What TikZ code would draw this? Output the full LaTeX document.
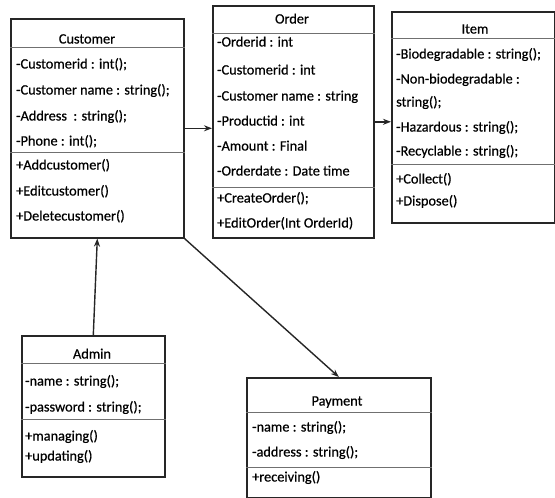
\documentclass[tikz,border=0pt]{standalone}
\usepackage{fontspec}
\setmainfont{Carlito}
\newfontfamily\umlfont{Carlito}[FakeBold=0.6]
\usepackage{xcolor}
\usepackage{tikz}
\usetikzlibrary{arrows.meta,positioning,calc}
\definecolor{bk90}{HTML}{262626}
\definecolor{bk60}{HTML}{707070}
\tikzset{
  classbox/.style={
    rectangle, draw=bk90, line width=1.6pt, anchor=north west,
    inner sep=0pt
  },
  classname/.style={
    font=\umlfont\fontsize{14.3}{17}\selectfont, inner sep=0pt,
    text height=10.5pt, text depth=3.5pt
  },
  member/.style={
    anchor=west, font=\umlfont\fontsize{14.3}{17}\selectfont, inner sep=0pt,
    text height=10.5pt, text depth=3.5pt
  },
  divider/.style={draw=bk60, line width=0.9pt},
  assoc/.style={
    -{Stealth[length=8pt,width=6pt]}, line width=1.4pt, color=bk90
  },
}
\begin{document}
\begin{tikzpicture}[x=1pt, y=-1pt]
\useasboundingbox (0,0) rectangle (555,498);
% class boxes
\node[classbox, minimum width=173pt, minimum height=219pt] (customer) at (10,18) {};
\node[classbox, minimum width=161pt, minimum height=232pt] (order) at (212,5) {};
\node[classbox, minimum width=163pt, minimum height=211pt] (item) at (391,11) {};
\node[classbox, minimum width=143pt, minimum height=141pt] (admin) at (21,335) {};
\node[classbox, minimum width=184pt, minimum height=120pt] (payment) at (246,377) {};
% compartments
\draw[divider] (customer.west |- 0,47) -- (customer.east |- 0,47);
\draw[divider] (customer.west |- 0,152) -- (customer.east |- 0,152);
\draw[divider] (order.west |- 0,33) -- (order.east |- 0,33);
\draw[divider] (order.west |- 0,187) -- (order.east |- 0,187);
\draw[divider] (item.west |- 0,38) -- (item.east |- 0,38);
\draw[divider] (item.west |- 0,164) -- (item.east |- 0,164);
\draw[divider] (admin.west |- 0,363) -- (admin.east |- 0,363);
\draw[divider] (admin.west |- 0,419) -- (admin.east |- 0,419);
\draw[divider] (payment.west |- 0,412) -- (payment.east |- 0,412);
\draw[divider] (payment.west |- 0,467) -- (payment.east |- 0,467);
% Customer
\node[classname] (cust-t) at (87,40) {Customer};
\node[member] (cust-a1) at (16,65) {-Customerid : int();};
\node[member] (cust-a2) at (16,91) {-Customer name : string();};
\node[member] (cust-a3) at (16,117) {-Address\ \ : string();};
\node[member] (cust-a4) at (16,142) {-Phone : int();};
\node[member] (cust-m1) at (16,166) {+Addcustomer()};
\node[member] (cust-m2) at (16,192) {+Editcustomer()};
\node[member] (cust-m3) at (16,217) {+Deletecustomer()};
% Order
\node[classname] (ord-t) at (292,20) {Order};
\node[member] (ord-a1) at (217,43) {-Orderid : int};
\node[member] (ord-a2) at (217,71) {-Customerid : int};
\node[member] (ord-a3) at (217,97) {-Customer name : string};
\node[member] (ord-a4) at (217,122) {-Productid : int};
\node[member] (ord-a5) at (217,147) {-Amount : Final};
\node[member] (ord-a6) at (217,172) {-Orderdate : Date time};
\node[member] (ord-m1) at (217,199) {+CreateOrder();};
\node[member] (ord-m2) at (217,224) {+EditOrder(Int OrderId)};
% Item
\node[classname] (item-t) at (475,30) {Item};
\node[member] (item-a1) at (396,55) {-Biodegradable : string();};
\node[member] (item-a2) at (396,80) {-Non-biodegradable :};
\node[member] (item-a2b) at (396,103) {string();};
\node[member] (item-a3) at (396,128) {-Hazardous : string();};
\node[member] (item-a4) at (396,152) {-Recyclable : string();};
\node[member] (item-m1) at (396,180) {+Collect()};
\node[member] (item-m2) at (396,202) {+Dispose()};
% Admin
\node[classname] (adm-t) at (92,355) {Admin};
\node[member] (adm-a1) at (25,382) {-name : string();};
\node[member] (adm-a2) at (25,408) {-password : string();};
\node[member] (adm-m1) at (25,437) {+managing()};
\node[member] (adm-m2) at (25,457) {+updating()};
% Payment
\node[classname] (pay-t) at (337,402) {Payment};
\node[member] (pay-a1) at (252,428) {-name : string();};
\node[member] (pay-a2) at (252,453) {-address : string();};
\node[member] (pay-m1) at (252,478) {+receiving()};
% associations
\draw[assoc] (customer.east) -- (customer.east -| order.west);
\draw[assoc] (order.east) -- (order.east -| item.west);
\draw[assoc] (admin.north) -- (customer.south);
\draw[assoc] (customer.south east) -- (payment.north);
\end{tikzpicture}
\end{document}
